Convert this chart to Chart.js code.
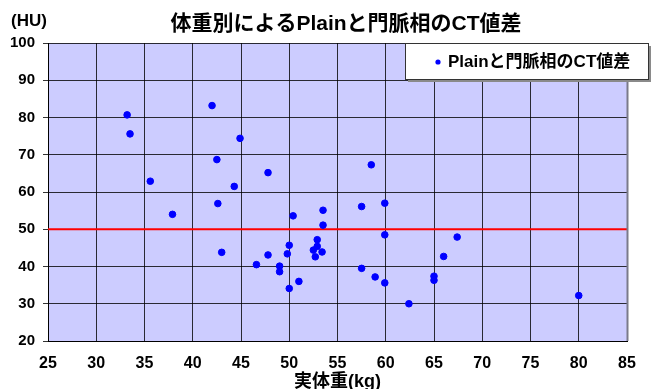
<!DOCTYPE html>
<html>
<head>
<meta charset="utf-8">
<script src="https://cdn.jsdelivr.net/npm/chart.js@4.4.1/dist/chart.umd.min.js"></script>
<style>
  html, body { margin: 0; padding: 0; background: #ffffff; }
</style>
</head>
<body>
<canvas id="chart" width="653" height="389"></canvas>
<script>
// Body weight (kg) of each patient
const weightKg = [
  33.2, 33.5, 35.6, 37.9, 42.0, 42.5, 42.6, 43.0, 44.3, 44.9,
  46.6, 47.8, 47.8, 49.0, 49.0, 49.8, 50.0, 50.0, 50.4, 51.0,
  52.5, 52.7, 52.9, 52.9, 53.4, 53.5, 53.5, 57.5, 57.5, 58.5,
  58.9, 59.9, 59.9, 59.9, 62.4, 65.0, 65.0, 66.0, 67.4, 80.0
];
// CT value difference between plain and portal phase (HU)
const ctDiffHU = [
  80.7, 75.6, 62.9, 54.0, 83.2, 68.7, 56.9, 43.8, 61.5, 74.4,
  40.5, 65.2, 43.1, 40.1, 38.6, 43.4, 45.7, 34.1, 53.6, 36.0,
  44.4, 42.6, 47.2, 45.4, 43.9, 55.1, 51.1, 56.1, 39.5, 67.3,
  37.2, 57.0, 48.5, 35.6, 30.0, 37.4, 36.3, 42.7, 47.9, 32.2
];
// Horizontal reference level (HU)
const referenceHU = 50;
// Axis ranges and tick steps
const xRange = [25, 85];
const xStep = 5;
const yRange = [20, 100];
const yStep = 10;

const seriesName = 'Plainと門脈相のCT値差';
const titleText = '体重別によるPlainと門脈相のCT値差';
const xTitle = '実体重(kg)';
const yUnit = '(HU)';

const FONT = "'Liberation Sans', Arial, 'Noto Sans CJK JP', sans-serif";

const points = weightKg.map((w, i) => ({ x: w, y: ctDiffHU[i] }));
const refLine = [{ x: xRange[0], y: referenceHU }, { x: xRange[1], y: referenceHU }];

// Plot background, title, unit label and the boxed legend
const decor = {
  id: 'decor',
  beforeDraw(chart) {
    const { ctx, chartArea: a } = chart;
    ctx.save();
    ctx.fillStyle = '#ccccff';
    ctx.fillRect(a.left, a.top, a.right - a.left, a.bottom - a.top);
    ctx.restore();
  },
  afterDraw(chart) {
    const { ctx, chartArea: a } = chart;
    ctx.save();
    // right edge shade of the plot
    ctx.strokeStyle = '#7a7a8a';
    ctx.lineWidth = 2;
    ctx.beginPath();
    ctx.moveTo(a.right + 0.5, a.top);
    ctx.lineTo(a.right + 0.5, a.bottom);
    ctx.stroke();

    // title
    ctx.fillStyle = '#000';
    ctx.textAlign = 'center';
    ctx.textBaseline = 'middle';
    ctx.font = "bold 21px " + FONT;
    ctx.fillText(titleText, 346, 24);

    // unit label
    ctx.textAlign = 'left';
    ctx.font = "bold 17px " + FONT;
    ctx.fillText(yUnit, 11, 21);

    // legend box
    const bx = 405, by = 43, bw = 243, bh = 36;
    ctx.fillStyle = '#8a8a8a';
    ctx.fillRect(bx + 3, by + 3, bw, bh);
    ctx.fillStyle = '#ffffff';
    ctx.fillRect(bx, by, bw, bh);
    ctx.strokeStyle = '#333';
    ctx.lineWidth = 1;
    ctx.strokeRect(bx + 0.5, by + 0.5, bw, bh);
    ctx.fillStyle = '#0000ff';
    ctx.beginPath();
    ctx.arc(438, 62, 2.6, 0, Math.PI * 2);
    ctx.fill();
    ctx.fillStyle = '#000';
    ctx.font = "bold 17px " + FONT;
    ctx.textBaseline = 'middle';
    ctx.fillText(seriesName, 448, 62);
    ctx.restore();
  }
};

new Chart(document.getElementById('chart'), {
  type: 'scatter',
  data: {
    datasets: [
      {
        label: seriesName,
        data: points,
        backgroundColor: '#0000ff',
        borderColor: '#0000ff',
        pointRadius: 3.3,
        pointHoverRadius: 3.3,
        order: 1
      },
      {
        label: 'ref',
        data: refLine,
        showLine: true,
        borderColor: '#ff0000',
        borderWidth: 2,
        pointRadius: 0,
        order: 2
      }
    ]
  },
  options: {
    responsive: false,
    animation: false,
    events: [],
    layout: { padding: { left: 0, top: 43, right: 26, bottom: 0 } },
    plugins: {
      legend: { display: false },
      title: { display: false },
      tooltip: { enabled: false }
    },
    scales: {
      x: {
        type: 'linear',
        min: xRange[0],
        max: xRange[1],
        afterFit(scale) { scale.height = 48; },
        ticks: {
          stepSize: xStep,
          color: '#000',
          padding: 13,
          maxRotation: 0,
          font: { family: FONT, size: 16, weight: 'bold' }
        },
        grid: {
          color: 'rgba(0,0,0,0.8)',
          lineWidth: 1,
          drawTicks: false
        },
        border: { color: '#000', width: 1 },
        title: {
          display: true,
          text: xTitle,
          color: '#000',
          padding: { top: 0, bottom: -4 },
          font: { family: FONT, size: 18, weight: 'bold' }
        }
      },
      y: {
        type: 'linear',
        min: yRange[0],
        max: yRange[1],
        afterFit(scale) { scale.width = 48; },
        ticks: {
          stepSize: yStep,
          color: '#000',
          padding: 8,
          font: { family: FONT, size: 15, weight: 'bold' }
        },
        grid: {
          color: 'rgba(0,0,0,0.8)',
          lineWidth: 1,
          tickLength: 5
        },
        border: { color: '#000', width: 1 }
      }
    }
  },
  plugins: [decor]
});
</script>
</body>
</html>
